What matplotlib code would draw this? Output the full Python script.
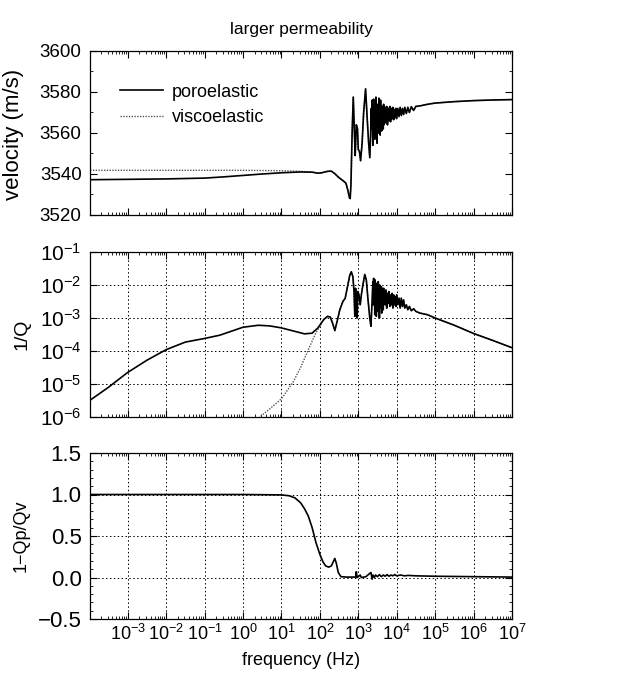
import numpy as np
import matplotlib
matplotlib.use("Agg")
import matplotlib.pyplot as plt
from matplotlib.ticker import LogLocator, MultipleLocator, NullFormatter

plt.rcParams['font.family'] = ['Liberation Sans', 'DejaVu Sans']
plt.rcParams['mathtext.fontset'] = 'custom'
plt.rcParams['mathtext.rm'] = 'Liberation Sans'
plt.rcParams['mathtext.it'] = 'Liberation Sans'
plt.rcParams['mathtext.default'] = 'regular'

# ---------------- data (log10 of frequency in Hz) ----------------
vel_poro_logf = [-4.05, -3, -2, -1, -0.5, 0, 0.5, 1, 1.5, 1.8, 1.95, 2.05, 2.2, 2.3, 2.4, 2.48,
                 2.55, 2.62, 2.68, 2.73, 2.77, 2.79, 2.81, 2.84, 2.87, 2.9, 2.92, 2.95, 2.98, 3.0,
                 3.03, 3.06, 3.1, 3.14, 3.19, 3.23, 3.27, 3.30, 3.32, 3.34, 3.35, 3.36, 3.37, 3.38,
                 3.39, 3.40, 3.41, 3.42, 3.43, 3.44, 3.45, 3.46, 3.47, 3.48, 3.49, 3.50, 3.51, 3.52,
                 3.53, 3.54, 3.55, 3.56, 3.57, 3.58, 3.59, 3.60, 3.61, 3.62, 3.63, 3.64, 3.65, 3.66,
                 3.67, 3.68, 3.69, 3.70, 3.72, 3.74, 3.76, 3.78, 3.80, 3.82, 3.84, 3.86, 3.88, 3.90,
                 3.92, 3.94, 3.96, 3.98, 4.00, 4.03, 4.06, 4.09, 4.12, 4.15, 4.18, 4.21, 4.25, 4.29,
                 4.33, 4.38, 4.44, 4.5, 4.6, 4.8, 5.0, 5.5, 6.0, 6.5, 7.0]
vel_poro = [3537.2, 3537.4, 3537.6, 3538.0, 3538.6, 3539.3, 3540.0, 3540.6, 3541.0, 3540.9, 3540.4,
            3540.6, 3541.3, 3541.4, 3540.0, 3538.5, 3537.5, 3536.5, 3535.5, 3532.0, 3528.5, 3528.0,
            3535.0, 3560.0, 3577.5, 3560.0, 3549.0, 3564.0, 3562.0, 3552.0, 3551.0, 3546.5, 3555.0,
            3570.0, 3581.5, 3568.0, 3555.0, 3548.0, 3558.0, 3572.0, 3562.0, 3576.0, 3566.0, 3554.0,
            3571.0, 3576.5, 3560.0, 3574.0, 3557.0, 3570.0, 3563.0, 3577.5, 3559.0, 3572.0, 3555.0,
            3574.0, 3564.0, 3569.0, 3560.0, 3577.0, 3562.0, 3573.0, 3559.0, 3576.0, 3563.0, 3571.0,
            3561.0, 3573.0, 3566.0, 3572.0, 3562.0, 3574.0, 3564.0, 3571.0, 3565.0, 3572.5, 3565.0,
            3573.0, 3564.0, 3572.0, 3566.0, 3573.0, 3565.5, 3572.0, 3567.0, 3572.5, 3566.5, 3571.5,
            3567.5, 3572.0, 3567.0, 3572.0, 3568.0, 3572.5, 3568.5, 3572.0, 3569.0, 3572.5, 3569.5,
            3572.5, 3570.0, 3572.8, 3571.0, 3573.0, 3573.2, 3574.0, 3574.6, 3575.3, 3575.8, 3576.1,
            3576.3]

vel_visco_low_logf = [-4.05, -3, -2, -1, 0, 1, 1.5]
vel_visco_low = [3541.8, 3541.8, 3541.8, 3541.8, 3541.8, 3541.6, 3541.3]

invq_poro_logf = [-4.05, -3.5, -3, -2.5, -2, -1.5, -1, -0.6, -0.3, 0,
                  0.4, 0.7, 1, 1.3, 1.6, 1.8, 1.95, 2.1, 2.2, 2.27,
                  2.33, 2.39, 2.45, 2.52, 2.6, 2.66, 2.72, 2.78, 2.82, 2.86,
                  2.89, 2.91, 2.93, 2.95, 2.97, 2.99, 3.02, 3.05, 3.08, 3.12,
                  3.17, 3.21, 3.25, 3.3, 3.33, 3.36, 3.38, 3.39, 3.40, 3.41,
                  3.42, 3.43, 3.44, 3.45, 3.46, 3.47, 3.48, 3.49, 3.50, 3.51,
                  3.52, 3.53, 3.54, 3.55, 3.56, 3.57, 3.58, 3.59, 3.60, 3.61,
                  3.62, 3.63, 3.64, 3.65, 3.66, 3.67, 3.68, 3.70, 3.72, 3.74,
                  3.76, 3.78, 3.80, 3.82, 3.84, 3.86, 3.88, 3.90, 3.92, 3.94,
                  3.96, 3.98, 4.00, 4.03, 4.06, 4.09, 4.12, 4.15, 4.18, 4.21,
                  4.25, 4.29, 4.33, 4.38, 4.44, 4.5, 4.6, 4.8, 5.0, 5.5,
                  6.0, 6.5, 7.0]
invq_poro_log = [-5.55, -5.1, -4.65, -4.28, -3.96, -3.73, -3.62, -3.52, -3.4, -3.28,
                 -3.22, -3.24, -3.3, -3.39, -3.48, -3.46, -3.3, -3.05, -2.95, -2.97,
                 -3.15, -3.38, -3.1, -2.75, -2.5, -2.4, -2.05, -1.7, -1.6, -1.75,
                 -2.2, -2.95, -2.1, -2.5, -3.0, -2.2, -2.3, -2.6, -2.3, -2.0,
                 -1.68, -1.85, -2.4, -3.0, -3.25, -2.5, -1.9, -2.6, -1.8, -2.4,
                 -2.0, -2.9, -1.85, -2.5, -2.1, -2.95, -1.95, -2.6, -2.2, -2.8,
                 -1.9, -2.5, -2.05, -3.0, -2.0, -2.7, -2.15, -2.55, -2.05, -2.85,
                 -2.1, -2.5, -2.2, -2.75, -2.1, -2.55, -2.25, -2.6, -2.15, -2.7,
                 -2.25, -2.55, -2.2, -2.65, -2.3, -2.6, -2.25, -2.7, -2.3, -2.6,
                 -2.35, -2.65, -2.3, -2.6, -2.4, -2.7, -2.4, -2.65, -2.45, -2.7,
                 -2.6, -2.75, -2.65, -2.78, -2.72, -2.8, -2.85, -2.9, -3.0, -3.22,
                 -3.47, -3.68, -3.9]

invq_visco_low_logf = [0.3, 0.44, 0.7, 1.0, 1.3, 1.5, 1.65, 1.8, 1.9, 2.0, 2.1]
invq_visco_low_log = [-6.15, -6.0, -5.75, -5.45, -4.95, -4.5, -4.1, -3.7, -3.45, -3.25, -3.05]

ratio_logf = [-4.05, 0, 1.0, 1.2, 1.35, 1.5, 1.6, 1.7, 1.8, 1.9, 2.0, 2.08, 2.15, 2.23, 2.3, 2.35,
              2.39, 2.43, 2.48, 2.55, 2.7, 2.93, 2.95, 2.97, 3.0, 3.05, 3.08, 3.2, 3.3, 3.33, 3.36,
              3.38, 3.42, 3.45, 3.5, 3.55, 3.6, 3.65, 3.7, 3.75, 3.8, 3.85, 3.9, 3.95, 4.0, 4.1,
              4.2, 4.3, 4.5, 5.0, 6.0, 7.0]
ratio = [1.0, 1.0, 0.995, 0.985, 0.96, 0.9, 0.83, 0.74, 0.6, 0.42, 0.28, 0.19, 0.14, 0.125, 0.14,
         0.19, 0.23, 0.17, 0.06, 0.01, 0.005, 0.005, 0.07, 0.0, 0.01, 0.03, 0.0, 0.01, 0.05, 0.06,
         -0.02, 0.03, 0.0, 0.03, 0.01, 0.035, 0.01, 0.03, 0.015, 0.035, 0.015, 0.03, 0.02, 0.035,
         0.02, 0.03, 0.02, 0.025, 0.02, 0.015, 0.01, 0.005]

xticks_exp = [-3, -2, -1, 0, 1, 2, 3, 4, 5, 6, 7]

# ---------------- derived arrays ----------------
f_vp = 10.0 ** np.array(vel_poro_logf)
vp = np.array(vel_poro)
mask_v = np.array(vel_poro_logf) >= 1.8
f_vv = np.concatenate([10.0 ** np.array(vel_visco_low_logf), f_vp[mask_v]])
vv = np.concatenate([np.array(vel_visco_low), vp[mask_v]])

f_qp = 10.0 ** np.array(invq_poro_logf)
qp = 10.0 ** np.array(invq_poro_log)
mask_q = np.array(invq_poro_logf) >= 2.2
f_qv = np.concatenate([10.0 ** np.array(invq_visco_low_logf), f_qp[mask_q]])
qv = np.concatenate([10.0 ** np.array(invq_visco_low_log), qp[mask_q]])

f_r = 10.0 ** np.array(ratio_logf)
r = np.array(ratio)

# ---------------- figure ----------------
fig = plt.figure(figsize=(6.35, 6.75), dpi=100)
L, W = 90 / 635, 422 / 635
ax1 = fig.add_axes([L, (675 - 215) / 675, W, 164 / 675])
ax2 = fig.add_axes([L, (675 - 417) / 675, W, 165 / 675])
ax3 = fig.add_axes([L, (675 - 619) / 675, W, 166 / 675])

xmin, xmax = 10 ** -3.98, 1e7
FS = 13

for ax in (ax1, ax2, ax3):
    ax.set_xscale('log')
    ax.set_xlim(xmin, xmax)
    ax.xaxis.set_major_locator(LogLocator(base=10, numticks=20))
    ax.xaxis.set_minor_locator(LogLocator(base=10, subs=np.arange(2, 10), numticks=20))
    ax.xaxis.set_minor_formatter(NullFormatter())
    ax.tick_params(which='both', direction='in', top=True, right=True, labelsize=FS)
    ax.tick_params(which='major', length=5, width=0.8)
    ax.tick_params(which='minor', length=2.5, width=0.6)
    ax.tick_params(axis='y', pad=6)
    for s in ax.spines.values():
        s.set_linewidth(0.9)

# top panel
ax1.plot(f_vv, vv, color='#555555', ls=(0, (1, 1)), lw=1.0, label='viscoelastic', zorder=2)
ax1.plot(f_vp, vp, color='black', lw=1.2, label='poroelastic', zorder=3)
ax1.set_ylim(3520, 3600)
ax1.yaxis.set_major_locator(MultipleLocator(20))
ax1.yaxis.set_minor_locator(MultipleLocator(10))
ax1.tick_params(axis='y', labelsize=13.5)
ax1.set_ylabel('velocity (m/s)', fontsize=16)
ax1.yaxis.set_label_coords(-0.157, 0.49)
ax1.tick_params(labelbottom=False)
ax1.set_title('larger permeability', fontsize=12.5, pad=12)
h, l = ax1.get_legend_handles_labels()
ax1.legend(h[::-1], l[::-1], loc='upper left', bbox_to_anchor=(0.072, 0.80), frameon=False,
           fontsize=FS, handlelength=2.35, handletextpad=0.5, labelspacing=0.48,
           borderpad=0, borderaxespad=0)

# middle panel
ax2.plot(f_qv, qv, color='#555555', ls=(0, (1, 1)), lw=1.0, zorder=2)
ax2.plot(f_qp, qp, color='black', lw=1.2, zorder=3)
ax2.set_yscale('log')
ax2.set_ylim(1e-6, 1e-1)
ax2.yaxis.set_major_locator(LogLocator(base=10, numticks=10))
ax2.yaxis.set_minor_locator(plt.NullLocator())
ax2.tick_params(axis='y', labelsize=15)
ax2.set_ylabel('1/Q', fontsize=14)
ax2.yaxis.set_label_coords(-0.142, 0.5)
ax2.tick_params(labelbottom=False)
ax2.grid(True, which='major', color='black', ls=(0, (1.5, 2.5)), lw=0.7)

# bottom panel
ax3.plot(f_r, r, color='black', lw=1.2)
ax3.set_ylim(-0.5, 1.5)
ax3.yaxis.set_major_locator(MultipleLocator(0.5))
ax3.yaxis.set_minor_locator(MultipleLocator(0.1))
ax3.yaxis.set_major_formatter(plt.FuncFormatter(lambda v, p: f'{v:.1f}'.replace('-', '\u2212')))
ax3.tick_params(axis='y', labelsize=16)
ax3.set_ylabel('1\u2212Qp/Qv', fontsize=FS)
ax3.yaxis.set_label_coords(-0.142, 0.5)
ax3.set_xlabel('frequency (Hz)', fontsize=FS, labelpad=6)
ax3.set_xticks([10.0 ** e for e in xticks_exp])
ax3.grid(True, which='major', color='black', ls=(0, (1.5, 2.5)), lw=0.7)

fig.savefig('out.png', dpi=100)
